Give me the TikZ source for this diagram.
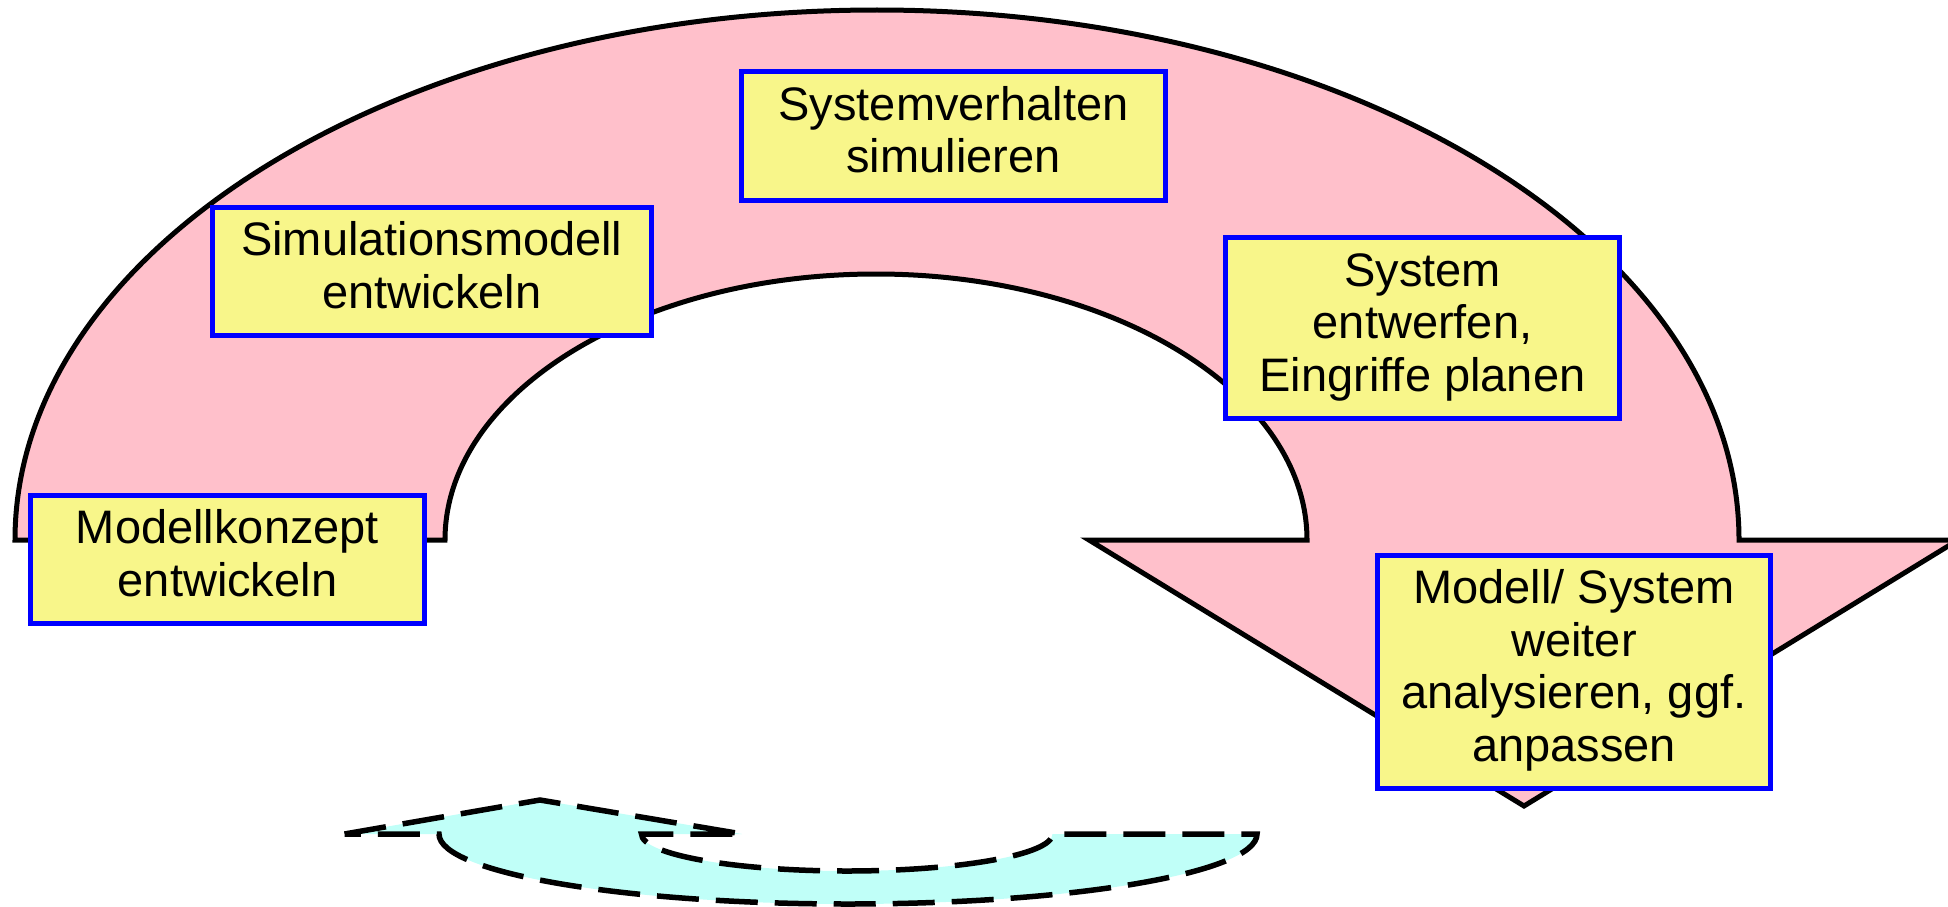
\documentclass[tikz,border=0pt]{standalone}
\usepackage{fontspec}
\setmainfont{Liberation Sans}
\definecolor{pinkfill}{RGB}{255,192,203}
\definecolor{boxfill}{RGB}{248,246,138}
\definecolor{cyanfill}{RGB}{192,255,248}
\begin{document}
\begin{tikzpicture}[x=1pt,y=1pt,
  stepbox/.style={draw=blue, line width=5pt, fill=boxfill, inner sep=0pt, align=center,
    font=\fontsize{47}{52.5}\selectfont},
  bigarrow/.style={draw=black, fill=pinkfill, line width=5pt, line join=miter},
  backarrow/.style={draw=black, fill=cyanfill, line width=5.5pt, dash pattern=on 42pt off 17pt}]
\useasboundingbox (0,0) rectangle (1948,-907);
% pink curved arrow
\draw[bigarrow] (15,-540) -- (445,-540)
  arc[start angle=180,end angle=0,x radius=431,y radius=266]
  -- (1089,-540) -- (1524,-806) -- (1958,-540) -- (1739,-540)
  arc[start angle=0,end angle=180,x radius=862,y radius=530] -- cycle;
% cyan dashed return arrow
\draw[backarrow] (344.5,-834) -- (540,-800) -- (742,-834) -- (641.5,-834)
  arc[start angle=180,end angle=360,x radius=205.5,y radius=37]
  -- (1257,-834)
  arc[start angle=0,end angle=-180,x radius=409,y radius=70] -- cycle;
% boxes
\node[stepbox, minimum width=424pt, minimum height=129pt] (simu) at (953.5,-136)
  {\strut Systemverhalten\\simulieren\strut};
\node[stepbox, minimum width=438.5pt, minimum height=128pt] (modell) at (431.8,-271.5)
  {\strut Simulationsmodell\\entwickeln\strut};
\node[stepbox, minimum width=394pt, minimum height=181pt] (entwurf) at (1422.5,-328)
  {\strut System\\entwerfen,\\Eingriffe planen\strut};
\node[stepbox, minimum width=394pt, minimum height=128pt] (konzept) at (227.5,-559.5)
  {\strut Modellkonzept\\entwickeln\strut};
\node[stepbox, minimum width=393pt, minimum height=233pt] (analyse) at (1574,-672)
  {\strut Modell/ System\\weiter\\analysieren, ggf.\\anpassen\strut};
\end{tikzpicture}
\end{document}
